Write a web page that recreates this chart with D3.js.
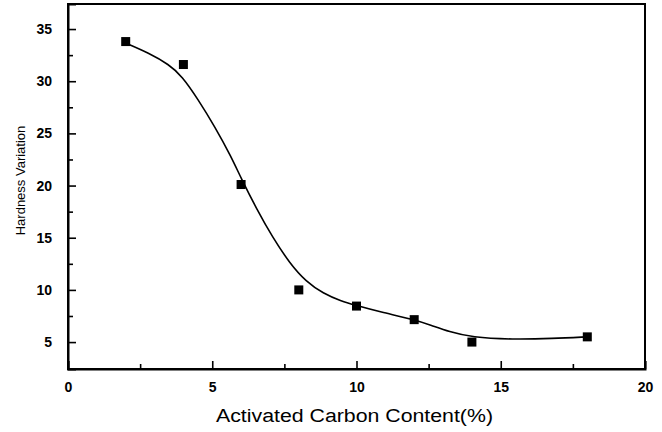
<!DOCTYPE html>
<html>
<head>
<meta charset="utf-8">
<script src="https://cdn.jsdelivr.net/npm/d3@7"></script>
<style>
  body { margin: 0; background: #fff; }
  svg { display: block; }
  text { font-family: "Liberation Sans", Arial, sans-serif; fill: #000; }
</style>
</head>
<body>
<div id="chart"></div>
<script>
// measured points
const contentPct = [2, 4, 6, 8, 10, 12, 14, 18];
const hardness = [33.8, 31.6, 20.1, 10.0, 8.45, 7.15, 5.0, 5.5];

// smoothed fit line
const fitX = [2, 2.8, 3.5, 3.95, 4.5, 5.1, 5.65, 6.0, 6.55, 7.1, 7.7, 8.25, 8.85, 9.45, 10, 10.8, 12, 12.6, 13.2, 14, 15.4, 16.8, 18];
const fitY = [33.65, 32.7, 31.6, 30.5, 28.3, 25.6, 22.8, 20.7, 17.7, 15.0, 12.5, 10.8, 9.65, 8.95, 8.5, 7.9, 7.15, 6.6, 6.0, 5.45, 5.25, 5.34, 5.5];

const xTicks = [0, 5, 10, 15, 20];
const yTicks = [5, 10, 15, 20, 25, 30, 35];

const width = 662, height = 432;
const mLeft = 68, mRight = 645, mTop = 4, mBottom = 369;

const x = d3.scaleLinear().domain([0, 20]).range([mLeft, mRight]);
const y = d3.scaleLinear().domain([2.42, 37.4]).range([mBottom, mTop]);

const svg = d3.select("#chart").append("svg")
    .attr("width", width)
    .attr("height", height);

// frame
svg.append("rect")
    .attr("x", mLeft).attr("y", mTop)
    .attr("width", mRight - mLeft).attr("height", mBottom - mTop)
    .attr("fill", "none")
    .attr("stroke", "#000")
    .attr("stroke-width", 2);

// x axis (ticks inward)
svg.append("g")
    .attr("transform", `translate(0,${mBottom})`)
    .call(d3.axisBottom(x).tickValues(xTicks).tickSize(-8).tickPadding(13).tickFormat(d3.format("d")));
svg.append("g")
    .attr("transform", `translate(0,${mBottom})`)
    .call(d3.axisBottom(x).tickValues([2.5, 7.5, 12.5, 17.5]).tickSize(-5).tickFormat(""))
    .call(g => g.select(".domain").remove());

svg.append("g")
    .attr("transform", `translate(${mLeft},0)`)
    .call(d3.axisLeft(y).tickValues(yTicks).tickSize(-8).tickPadding(16).tickFormat(d3.format("d")));
svg.append("g")
    .attr("transform", `translate(${mLeft},0)`)
    .call(d3.axisLeft(y).tickValues([7.5, 12.5, 17.5, 22.5, 27.5, 32.5]).tickSize(-5).tickFormat(""))
    .call(g => g.select(".domain").remove());

svg.selectAll(".domain").attr("stroke-width", 2);
svg.selectAll(".tick line").attr("stroke-width", 1.6);
svg.selectAll(".tick text")
    .style("font-size", "14px")
    .style("font-weight", "bold")
    .style("font-family", "'Liberation Sans', Arial, sans-serif");

// fit curve
const fit = fitX.map((d, i) => ({x: d, y: fitY[i]}));
svg.append("path")
    .datum(fit)
    .attr("fill", "none")
    .attr("stroke", "#000")
    .attr("stroke-width", 1.6)
    .attr("d", d3.line().x(d => x(d.x)).y(d => y(d.y)).curve(d3.curveBasis));

// markers
const s = 9;
svg.selectAll(".pt")
    .data(contentPct.map((d, i) => ({x: d, y: hardness[i]})))
    .enter()
    .append("rect")
    .attr("class", "pt")
    .attr("x", d => x(d.x) - s / 2)
    .attr("y", d => y(d.y) - s / 2)
    .attr("width", s)
    .attr("height", s)
    .attr("fill", "#000");

// axis titles
svg.append("text")
    .attr("x", (mLeft + mRight) / 2 - 2)
    .attr("y", 422)
    .attr("text-anchor", "middle")
    .attr("textLength", 277)
    .attr("lengthAdjust", "spacingAndGlyphs")
    .style("font-size", "18px")
    .text("Activated Carbon Content(%)");

svg.append("text")
    .attr("transform", `translate(25,${(mTop + mBottom) / 2 - 6}) rotate(-90)`)
    .attr("text-anchor", "middle")
    .style("font-size", "13px")
    .text("Hardness Variation");
</script>
</body>
</html>
